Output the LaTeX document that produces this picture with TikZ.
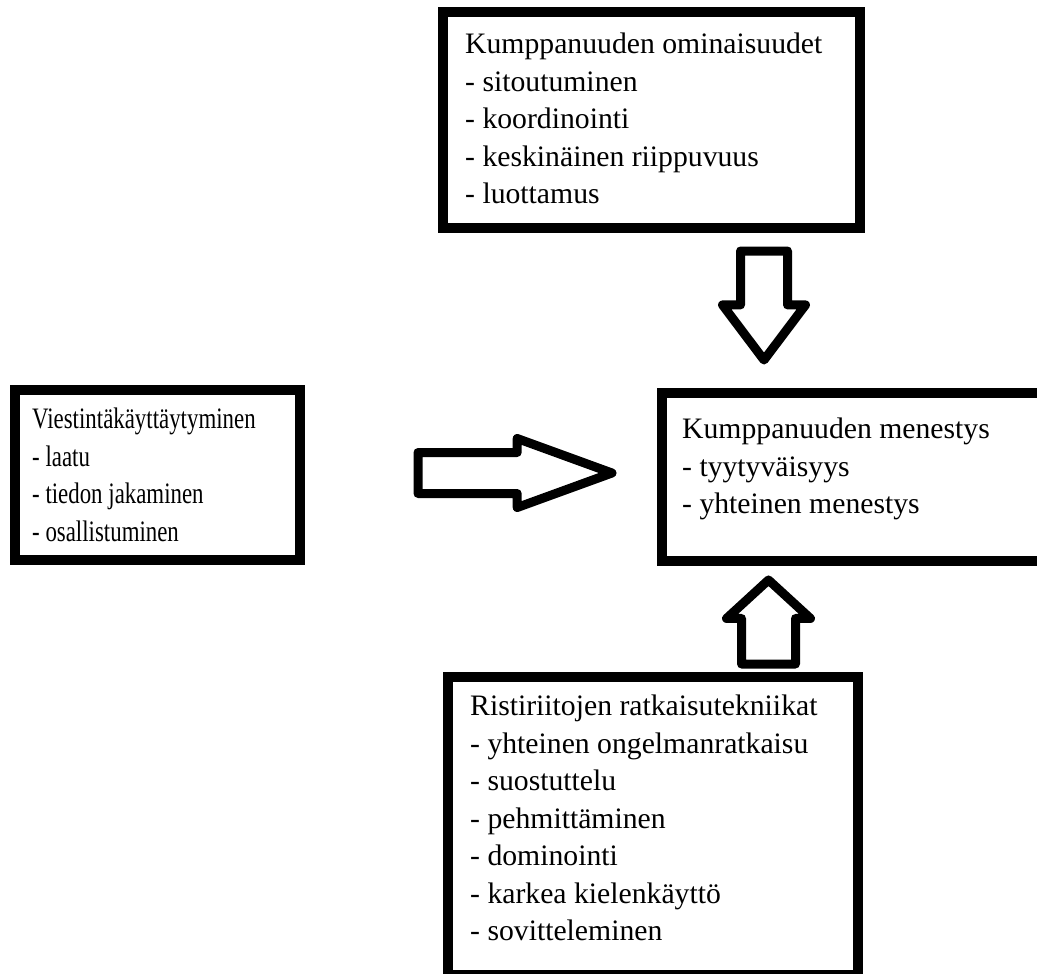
\documentclass[tikz,border=0pt]{standalone}
\usepackage{fontspec}
\setmainfont{Liberation Serif}
\newfontfamily\narrowserif[FakeStretch=0.77]{Liberation Serif}
\usetikzlibrary{shapes.arrows}

\tikzset{
    box/.style={draw, line width=10pt, rectangle, inner sep=0pt, outer sep=0pt},
    boxtext/.style={anchor=north west, align=left, inner sep=0pt,
        font=\fontsize{29.7}{37.5}\selectfont},
    fatarrow/.style={draw, line width=9pt, line join=round, single arrow,
        inner xsep=0pt, outer sep=0pt, anchor=tail}
}

\begin{document}
\begin{tikzpicture}[x=1pt, y=-1pt]
    \useasboundingbox (0, 0) rectangle (1037, 974);
    \clip (0, 0) rectangle (1037, 974);

    % Draw boxes
    \node [box, minimum width=417pt, minimum height=216pt] (ominaisuudet) at (651.5, 120) {};
    \node [box, minimum width=284.5pt, minimum height=170pt] (viestinta) at (157.25, 475) {};
    \node [box, minimum width=380pt, minimum height=168pt] (menestys) at (852, 476.5) {};
    \node [box, minimum width=410pt, minimum height=298pt] (ristiriidat) at (653, 826) {};

    % Texts in the boxes
    \node [boxtext] (tominaisuudet) at ([shift={(22, 21)}]ominaisuudet.north west)
        {Kumppanuuden ominaisuudet\\- sitoutuminen\\- koordinointi\\- keskinäinen riippuvuus\\- luottamus};
    \node [boxtext, font=\narrowserif\fontsize{29.7}{37.5}\selectfont] (tviestinta) at ([shift={(17, 18)}]viestinta.north west)
        {Viestintäkäyttäytyminen\\- laatu\\- tiedon jakaminen\\- osallistuminen};
    \node [boxtext] (tmenestys) at ([shift={(20, 25.5)}]menestys.north west)
        {Kumppanuuden menestys\\- tyytyväisyys\\- yhteinen menestys};
    \node [boxtext] (tristiriidat) at ([shift={(22, 18)}]ristiriidat.north west)
        {Ristiriitojen ratkaisutekniikat\\- yhteinen ongelmanratkaisu\\- suostuttelu\\- pehmittäminen\\- dominointi\\- karkea kielenkäyttö\\- sovitteleminen};

    % Block arrows
    \node [fatarrow, rotate=-90, minimum height=109pt, minimum width=74pt, inner ysep=19pt,
        single arrow head extend=18pt, single arrow tip angle=74] (alas) at (764, 251) {};
    \node [fatarrow, minimum height=194pt, minimum width=60pt, inner ysep=16pt,
        single arrow head extend=14pt, single arrow tip angle=40] (oikealle) at (418, 473) {};
    \node [fatarrow, rotate=90, minimum height=84pt, minimum width=75pt, inner ysep=22.5pt,
        single arrow head extend=15pt, single arrow tip angle=95] (ylos) at (768.5, 664) {};

\end{tikzpicture}
\end{document}
